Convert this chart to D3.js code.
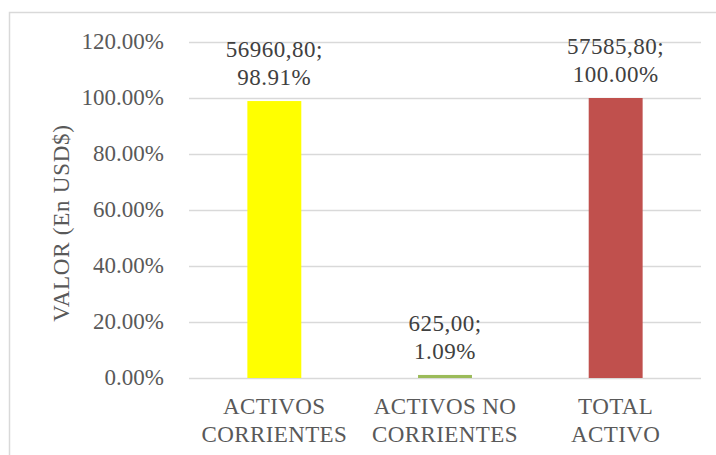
<!DOCTYPE html>
<html lang="es">
<head>
<meta charset="UTF-8">
<title>Activos</title>
<script src="https://d3js.org/d3.v7.min.js"></script>
<style>
    body { margin: 0; background: #fff; }
</style>
</head>
<body>
<svg width="716" height="455"></svg>
<script>
    // data
    const categories = [["ACTIVOS", "CORRIENTES"], ["ACTIVOS NO", "CORRIENTES"], ["TOTAL", "ACTIVO"]];
    const values = [0.9891, 0.0109, 1.0];
    const amounts = ["56960,80;", "625,00;", "57585,80;"];
    const percents = ["98.91%", "1.09%", "100.00%"];
    const colors = ["#ffff00", "#9bbb59", "#c0504d"];
    const yTicks = [0, 0.2, 0.4, 0.6, 0.8, 1.0, 1.2];

    const FONT = "'Liberation Serif'";

    const svg = d3.select("svg");
    const margin = {top: 42, right: 15, bottom: 77, left: 189};
    const width = 716 - margin.left - margin.right,
          height = 455 - margin.top - margin.bottom;

    // outer frame
    svg.append("rect")
        .attr("x", 9.5).attr("y", 12.5)
        .attr("width", 720).attr("height", 460)
        .attr("fill", "none").attr("stroke", "#d9d9d9").attr("stroke-width", 1.5);

    const g = svg.append("g").attr("transform", `translate(${margin.left},${margin.top})`);

    const x = d3.scaleBand().domain(d3.range(categories.length)).range([0, width]).paddingInner(0.684).paddingOuter(0.342);
    const y = d3.scaleLinear().domain([0, 1.2]).range([height, 0]);
    const cx = i => x(i) + x.bandwidth() / 2;

    // gridlines + tick labels
    const yAxis = g.append("g")
        .call(d3.axisLeft(y).tickValues(yTicks).tickFormat(d => d3.format(".2f")(d * 100) + "%").tickSize(-width).tickPadding(25));
    yAxis.attr("font-family", null).attr("font-size", null);
    yAxis.select(".domain").remove();
    yAxis.selectAll("line").attr("stroke", "#d9d9d9").attr("stroke-width", 1.6);
    yAxis.selectAll("text")
        .style("font-family", FONT).style("font-size", "23px")
        .attr("dy", "0.3em")
        .attr("fill", "#595959");

    // bars
    g.selectAll(".bar")
        .data(values)
        .join("rect")
        .attr("class", "bar")
        .attr("x", (d, i) => x(i))
        .attr("y", d => y(d))
        .attr("width", x.bandwidth())
        .attr("height", d => height - y(d))
        .attr("fill", (d, i) => colors[i]);

    // data labels
    const lbl = g.selectAll(".lbl")
        .data(values)
        .join("text")
        .attr("class", "lbl")
        .attr("text-anchor", "middle")
        .style("font-family", FONT)
        .style("font-size", "23px")
        .style("letter-spacing", "0.5px")
        .attr("fill", "#404040")
        .attr("y", d => y(d) - 44);
    lbl.append("tspan").attr("x", (d, i) => cx(i)).text((d, i) => amounts[i]);
    lbl.append("tspan").attr("x", (d, i) => cx(i)).attr("dy", 28).text((d, i) => percents[i]);

    // category labels
    const cat = g.selectAll(".cat")
        .data(categories)
        .join("text")
        .attr("class", "cat")
        .attr("text-anchor", "middle")
        .style("font-family", FONT)
        .style("font-size", "23px")
        .style("letter-spacing", "0.4px")
        .attr("fill", "#595959")
        .attr("y", height + 36);
    cat.append("tspan").attr("x", (d, i) => cx(i)).text(d => d[0]);
    cat.append("tspan").attr("x", (d, i) => cx(i)).attr("dy", 28).text(d => d[1]);

    // y axis title
    svg.append("text")
        .attr("transform", `translate(69,223) rotate(-90)`)
        .attr("text-anchor", "middle")
        .style("font-family", FONT)
        .style("font-size", "23px")
        .style("letter-spacing", "0.75px")
        .attr("fill", "#595959")
        .text("VALOR (En USD$)");
</script>
</body>
</html>
